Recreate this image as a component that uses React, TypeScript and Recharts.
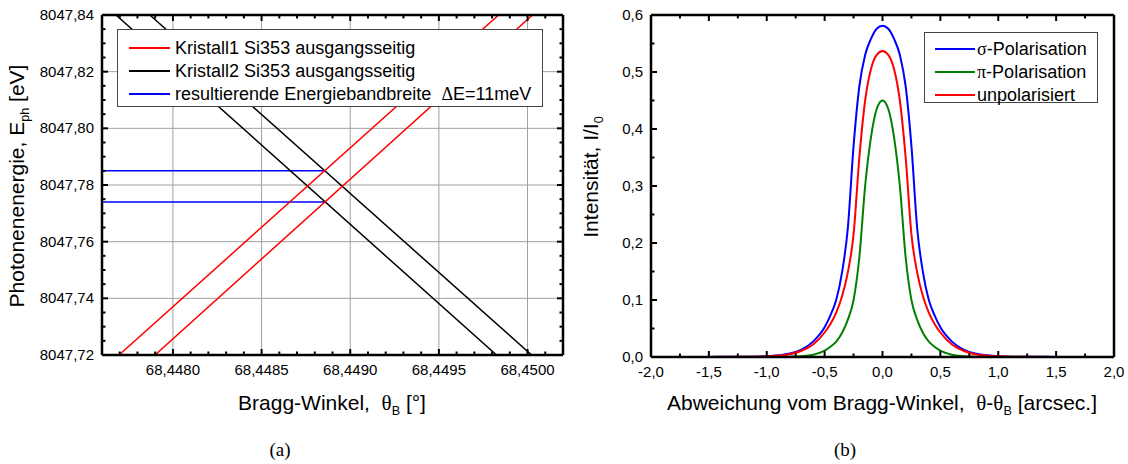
import React from 'react';
import { LineChart, Line, XAxis, YAxis, CartesianGrid, Legend } from 'recharts';

// (a) Bragg-Winkel vs. Photonenenergie
const braggDomain = [68.4476, 68.4502];
const energyDomain = [8047.72, 8047.84];
const braggMajor = [68.448, 68.4485, 68.449, 68.4495, 68.45];
const energyMajor = [8047.72, 8047.74, 8047.76, 8047.78, 8047.8, 8047.82, 8047.84];

const kristall1A = [{ x: 68.447696, y: 8047.72 }, { x: 68.449837, y: 8047.84 }];
const kristall1B = [{ x: 68.447899, y: 8047.72 }, { x: 68.450028, y: 8047.84 }];
const kristall2A = [{ x: 68.447679, y: 8047.84 }, { x: 68.449825, y: 8047.72 }];
const kristall2B = [{ x: 68.44787, y: 8047.84 }, { x: 68.450023, y: 8047.72 }];
const bandTop = [{ x: 68.4476, y: 8047.785 }, { x: 68.448857, y: 8047.785 }];
const bandBottom = [{ x: 68.4476, y: 8047.774 }, { x: 68.448857, y: 8047.774 }];

const leftLegend = [
  { name: 'Kristall1 Si353 ausgangsseitig', color: '#ff0000' },
  { name: 'Kristall2 Si353 ausgangsseitig', color: '#000000' },
  { name: 'resultierende Energiebandbreite  ΔE=11meV', color: '#0000ff' },
];

// (b) Reflexionskurven
const offsets = [-2, -1.5, -1.2, -1, -0.9, -0.8, -0.7, -0.6, -0.5, -0.45, -0.4, -0.35, -0.3, -0.25, -0.2, -0.15, -0.1, -0.05, 0,
  0.05, 0.1, 0.15, 0.2, 0.25, 0.3, 0.35, 0.4, 0.45, 0.5, 0.6, 0.7, 0.8, 0.9, 1, 1.2, 1.5, 2];
const sigmaPol = [0, 0.0002, 0.0005, 0.0015, 0.003, 0.006, 0.013, 0.027, 0.052, 0.073, 0.1, 0.148, 0.225, 0.37, 0.475, 0.53, 0.558, 0.576, 0.581,
  0.576, 0.558, 0.53, 0.475, 0.37, 0.225, 0.148, 0.1, 0.073, 0.052, 0.027, 0.013, 0.006, 0.003, 0.0015, 0.0005, 0.0002, 0];
const piPol = [0, 0, 0, 0.0001, 0.0002, 0.0006, 0.0015, 0.004, 0.011, 0.018, 0.027, 0.042, 0.065, 0.1, 0.175, 0.3, 0.385, 0.435, 0.45,
  0.435, 0.385, 0.3, 0.175, 0.1, 0.065, 0.042, 0.027, 0.018, 0.011, 0.004, 0.0015, 0.0006, 0.0002, 0.0001, 0, 0, 0];
const unpol = [0, 0.0001, 0.0004, 0.0012, 0.0025, 0.005, 0.011, 0.022, 0.043, 0.058, 0.078, 0.106, 0.148, 0.215, 0.35, 0.45, 0.505, 0.53, 0.537,
  0.53, 0.505, 0.45, 0.35, 0.215, 0.148, 0.106, 0.078, 0.058, 0.043, 0.022, 0.011, 0.005, 0.0025, 0.0012, 0.0004, 0.0001, 0];
const offsetMajor = [-2, -1.5, -1, -0.5, 0, 0.5, 1, 1.5, 2];
const intensityMajor = [0, 0.1, 0.2, 0.3, 0.4, 0.5, 0.6];

const rightLegend = [
  { name: 'σ-Polarisation', color: '#0000ff' },
  { name: 'π-Polarisation', color: '#008000' },
  { name: 'unpolarisiert', color: '#ff0000' },
];

const curveData = offsets.map((x, i) => ({ x, sigma: sigmaPol[i], pi: piPol[i], unpol: unpol[i] }));

const steps = (from: number, to: number, step: number, digits: number) => {
  const out: number[] = [];
  const n = Math.round((to - from) / step);
  for (let i = 0; i <= n; i++) out.push(Number((from + i * step).toFixed(digits)));
  return out;
};
const braggTicks = steps(68.4477, 68.4501, 0.0001, 4);
const energyTicks = steps(8047.72, 8047.84, 0.005, 3);
const offsetTicks = steps(-2, 2, 0.25, 2);
const intensityTicks = steps(0, 0.6, 0.05, 2);

const SANS = '"Liberation Sans", Arial, sans-serif';
const SERIF = '"Liberation Serif", "Times New Roman", serif';

function AxisTick(props: any) {
  const { x, y, payload, side, majors, fmt } = props;
  const v = payload.value;
  const major = majors.some((m: number) => Math.abs(m - v) < 1e-7);
  const len = major ? 6 : 3.5;
  const s = { stroke: '#000', strokeWidth: 2 };
  if (side === 'bottom') {
    return (
      <g>
        <line x1={x} x2={x} y1={y} y2={y - len} {...s} />
        {major && fmt && (
          <text x={x} y={y + 20} textAnchor="middle" fontSize={15} fontFamily={SANS} fill="#000">{fmt(v)}</text>
        )}
      </g>
    );
  }
  if (side === 'top') return <line x1={x} x2={x} y1={y} y2={y + len} {...s} />;
  if (side === 'left') {
    return (
      <g>
        <line x1={x} x2={x + len} y1={y} y2={y} {...s} />
        {major && fmt && (
          <text x={x - 8} y={y + 5} textAnchor="end" fontSize={15} fontFamily={SANS} fill="#000">{fmt(v)}</text>
        )}
      </g>
    );
  }
  return <line x1={x} x2={x - len} y1={y} y2={y} {...s} />;
}

function Greek({ text }: { text: string }) {
  return (
    <>
      {Array.from(text).map((c, i) =>
        /[\u0370-\u03ff]/.test(c) ? <span key={i} style={{ fontFamily: SERIF }}>{c}</span> : c
      )}
    </>
  );
}

function LegendBox({ items, width, height, padTop, lineLeft, lineLen, gap }: any) {
  return (
    <div style={{ width, height, boxSizing: 'border-box', border: '1px solid #444', background: '#fff', paddingTop: padTop, fontFamily: SANS, fontSize: 18 }}>
      {items.map((it: any) => (
        <div key={it.name} style={{ height: 23, display: 'flex', alignItems: 'center', whiteSpace: 'pre' }}>
          <div style={{ marginLeft: lineLeft, width: lineLen, height: 0, borderTop: `2px solid ${it.color}` }} />
          <span style={{ marginLeft: gap }}><Greek text={it.name} /></span>
        </div>
      ))}
    </div>
  );
}

const fmtComma = (d: number) => (v: number) => v.toFixed(d).replace('.', ',');
const axisLine = { stroke: '#000', strokeWidth: 2.5 };
const sub = { fontSize: '0.6em', verticalAlign: '-0.4em' } as React.CSSProperties;

export default function App() {
  return (
    <div style={{ position: 'absolute', left: 0, top: 0, width: 1128, height: 464, background: '#fff', fontFamily: SANS, color: '#000' }}>
      <div style={{ position: 'absolute', left: 0, top: 0 }}>
        <LineChart width={575} height={464} margin={{ top: 14, right: 11, bottom: 108, left: 101 }}>
          <CartesianGrid stroke="#a0a0a0" strokeWidth={1} verticalValues={braggMajor} horizontalValues={energyMajor} />
          <XAxis xAxisId={0} dataKey="x" type="number" domain={braggDomain} allowDataOverflow ticks={braggTicks} interval={0} height={1} tickSize={0} tickMargin={0} axisLine={axisLine} tickLine={false}
            tick={<AxisTick side="bottom" majors={braggMajor} fmt={fmtComma(4)} />} />
          <XAxis xAxisId="top" orientation="top" dataKey="x" type="number" domain={braggDomain} allowDataOverflow ticks={braggTicks} interval={0} height={1} tickSize={0} tickMargin={0} axisLine={axisLine} tickLine={false}
            tick={<AxisTick side="top" majors={braggMajor} />} />
          <YAxis yAxisId={0} type="number" domain={energyDomain} allowDataOverflow ticks={energyTicks} interval={0} width={1} tickSize={0} tickMargin={0} axisLine={axisLine} tickLine={false}
            tick={<AxisTick side="left" majors={energyMajor} fmt={fmtComma(2)} />} />
          <YAxis yAxisId="right" orientation="right" type="number" domain={energyDomain} allowDataOverflow ticks={energyTicks} interval={0} width={1} tickSize={0} tickMargin={0} axisLine={axisLine} tickLine={false}
            tick={<AxisTick side="right" majors={energyMajor} />} />
          <Line data={bandTop} dataKey="y" name={leftLegend[2].name} stroke="#0000ff" strokeWidth={1.5} dot={false} activeDot={false} isAnimationActive={false} />
          <Line data={bandBottom} dataKey="y" legendType="none" stroke="#0000ff" strokeWidth={1.5} dot={false} activeDot={false} isAnimationActive={false} />
          <Line data={kristall2A} dataKey="y" name={leftLegend[1].name} stroke="#000000" strokeWidth={1.5} dot={false} activeDot={false} isAnimationActive={false} />
          <Line data={kristall2B} dataKey="y" legendType="none" stroke="#000000" strokeWidth={1.5} dot={false} activeDot={false} isAnimationActive={false} />
          <Line data={kristall1A} dataKey="y" name={leftLegend[0].name} stroke="#ff0000" strokeWidth={1.5} dot={false} activeDot={false} isAnimationActive={false} />
          <Line data={kristall1B} dataKey="y" legendType="none" stroke="#ff0000" strokeWidth={1.5} dot={false} activeDot={false} isAnimationActive={false} />
          <Legend layout="vertical" align="center" verticalAlign="middle" wrapperStyle={{ left: 117, top: 29, width: 426, height: 78 }}
            content={() => <LegendBox items={leftLegend} width={426} height={78} padTop={6.5} lineLeft={11} lineLen={41} gap={5} />} />
        </LineChart>
      </div>
      <div style={{ position: 'absolute', left: 575, top: 0 }}>
        <LineChart width={553} height={464} data={curveData} margin={{ top: 14, right: 13, bottom: 106, left: 75 }}>
          <XAxis xAxisId={0} dataKey="x" type="number" domain={[-2, 2]} ticks={offsetTicks} interval={0} height={1} tickSize={0} tickMargin={0} axisLine={axisLine} tickLine={false}
            tick={<AxisTick side="bottom" majors={offsetMajor} fmt={fmtComma(1)} />} />
          <XAxis xAxisId="top" orientation="top" dataKey="x" type="number" domain={[-2, 2]} ticks={offsetTicks} interval={0} height={1} tickSize={0} tickMargin={0} axisLine={axisLine} tickLine={false}
            tick={<AxisTick side="top" majors={offsetMajor} />} />
          <YAxis yAxisId={0} type="number" domain={[0, 0.6]} ticks={intensityTicks} interval={0} width={1} tickSize={0} tickMargin={0} axisLine={axisLine} tickLine={false}
            tick={<AxisTick side="left" majors={intensityMajor} fmt={fmtComma(1)} />} />
          <YAxis yAxisId="right" orientation="right" type="number" domain={[0, 0.6]} ticks={intensityTicks} interval={0} width={1} tickSize={0} tickMargin={0} axisLine={axisLine} tickLine={false}
            tick={<AxisTick side="right" majors={intensityMajor} />} />
          <Line dataKey="sigma" name={rightLegend[0].name} type="monotone" stroke="#0000ff" strokeWidth={2} dot={false} activeDot={false} isAnimationActive={false} />
          <Line dataKey="pi" name={rightLegend[1].name} type="monotone" stroke="#008000" strokeWidth={2} dot={false} activeDot={false} isAnimationActive={false} />
          <Line dataKey="unpol" name={rightLegend[2].name} type="monotone" stroke="#ff0000" strokeWidth={2} dot={false} activeDot={false} isAnimationActive={false} />
          <Legend layout="vertical" align="center" verticalAlign="middle" wrapperStyle={{ left: 349, top: 32, width: 174, height: 71 }}
            content={() => <LegendBox items={rightLegend} width={174} height={71} padTop={4.5} lineLeft={10} lineLen={40} gap={2} />} />
        </LineChart>
      </div>

      <div style={{ position: 'absolute', left: 332, top: 392, transform: 'translateX(-50%)', fontSize: 21, lineHeight: '21px', whiteSpace: 'pre' }}>
        Bragg-Winkel,  <span style={{ fontFamily: SERIF }}>θ</span><span style={sub}>B</span> [°]
      </div>
      <div style={{ position: 'absolute', left: 20.5, top: 186, transform: 'translate(-50%, -50%) rotate(-90deg)', fontSize: 21, lineHeight: '21px', whiteSpace: 'pre' }}>
        Photonenenergie, E<span style={sub}>ph</span> [eV]
      </div>
      <div style={{ position: 'absolute', left: 882, top: 392, transform: 'translateX(-50%)', fontSize: 21, lineHeight: '21px', whiteSpace: 'pre' }}>
        Abweichung vom Bragg-Winkel,  <span style={{ fontFamily: SERIF }}>θ</span>-<span style={{ fontFamily: SERIF }}>θ</span><span style={sub}>B</span> [arcsec.]
      </div>
      <div style={{ position: 'absolute', left: 595, top: 177, transform: 'translate(-50%, -50%) rotate(-90deg)', fontSize: 21, lineHeight: '21px', whiteSpace: 'pre' }}>
        Intensität, I/I<span style={sub}>0</span>
      </div>
      <div style={{ position: 'absolute', left: 280, top: 450, transform: 'translate(-50%, -50%)', fontFamily: SERIF, fontSize: 19 }}>(a)</div>
      <div style={{ position: 'absolute', left: 845, top: 450, transform: 'translate(-50%, -50%)', fontFamily: SERIF, fontSize: 19 }}>(b)</div>
    </div>
  );
}
